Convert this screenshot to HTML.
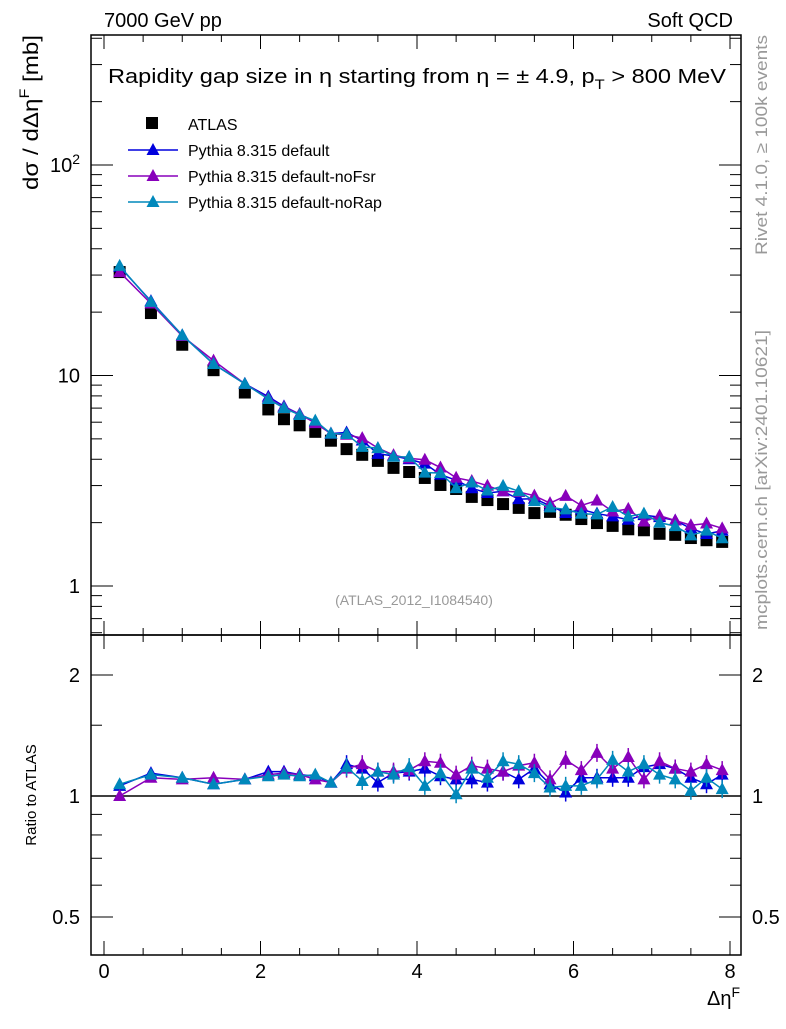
<!DOCTYPE html>
<html><head><meta charset="utf-8"><style>
body{margin:0;background:#fff;font-family:"Liberation Sans",sans-serif}
svg text{font-family:"Liberation Sans","DejaVu Sans",sans-serif}
</style></head><body>
<svg id="c" width="786" height="1024" xmlns="http://www.w3.org/2000/svg">
<rect x="91" y="35" width="650" height="600" fill="none" stroke="#000" stroke-width="1.5"/>
<rect x="91" y="635" width="650" height="320" fill="none" stroke="#000" stroke-width="1.5"/>
<text x="104" y="27" font-size="20">7000 GeV pp</text>
<text x="733" y="27" font-size="20" text-anchor="end">Soft QCD</text>
<text x="108" y="83" font-size="20" textLength="618" lengthAdjust="spacingAndGlyphs">Rapidity gap size in η starting from η = ± 4.9, p<tspan font-size="14" dy="6">T</tspan><tspan dy="-6"> &gt; 800 MeV</tspan></text>
<text x="414" y="605" font-size="14" fill="#999" text-anchor="middle">(ATLAS_2012_I1084540)</text>
<text transform="translate(767,255) rotate(-90)" font-size="17" fill="#999" textLength="220" lengthAdjust="spacingAndGlyphs">Rivet 4.1.0, ≥ 100k events</text>
<text transform="translate(767,630) rotate(-90)" font-size="17" fill="#999" textLength="300" lengthAdjust="spacingAndGlyphs">mcplots.cern.ch [arXiv:2401.10621]</text>
<text transform="translate(38,190) rotate(-90)" font-size="21" textLength="155" lengthAdjust="spacingAndGlyphs">dσ / dΔη<tspan font-size="14" dy="-9">F</tspan><tspan dy="9"> [mb]</tspan></text>
<text transform="translate(36,795) rotate(-90)" font-size="15" text-anchor="middle">Ratio to ATLAS</text>
<text x="740" y="1005" font-size="20" text-anchor="end">Δη<tspan font-size="14" dy="-8">F</tspan></text>
<g id="g"></g>
</svg>
<script>
const xs=[0.2,0.6,1.0,1.4,1.8,2.1,2.3,2.5,2.7,2.9,3.1,3.3,3.5,3.7,3.9,4.1,4.3,4.5,4.7,4.9,5.1,5.3,5.5,5.7,5.9,6.1,6.3,6.5,6.7,6.9,7.1,7.3,7.5,7.7,7.9];
const atlas=[31,19.8,14,10.6,8.3,6.9,6.2,5.8,5.4,4.9,4.47,4.2,3.93,3.64,3.48,3.26,3.02,2.89,2.65,2.56,2.45,2.35,2.22,2.25,2.18,2.08,1.99,1.93,1.86,1.84,1.77,1.75,1.69,1.65,1.62];
const rDefault=[1.06,1.14,1.11,1.07,1.10,1.15,1.15,1.13,1.12,1.08,1.20,1.17,1.08,1.14,1.15,1.17,1.12,1.10,1.10,1.08,1.15,1.10,1.17,1.07,1.02,1.11,1.11,1.11,1.11,1.18,1.20,1.17,1.11,1.07,1.13];
const rNoFsr=[1.0,1.11,1.10,1.11,1.10,1.13,1.14,1.13,1.10,1.08,1.17,1.20,1.15,1.15,1.16,1.22,1.21,1.13,1.19,1.17,1.15,1.19,1.21,1.10,1.23,1.16,1.28,1.17,1.25,1.10,1.22,1.17,1.15,1.20,1.16];
const rNoRap=[1.07,1.13,1.11,1.07,1.10,1.12,1.13,1.12,1.13,1.08,1.18,1.09,1.15,1.13,1.18,1.06,1.14,1.01,1.17,1.11,1.22,1.20,1.14,1.05,1.06,1.06,1.10,1.23,1.15,1.20,1.13,1.10,1.03,1.11,1.04];
const xTicks=[0,2,4,6,8];
const yTicks=[1,10,100];
const rTicks=[0.5,1,2];
const series=[["Pythia 8.315 default","#0000dd",rDefault],["Pythia 8.315 default-noFsr","#8800bb",rNoFsr],["Pythia 8.315 default-noRap","#0088bb",rNoRap]];
const NS="http://www.w3.org/2000/svg",g=document.getElementById('g');
const X=v=>104+78.25*v, Y=v=>586-210.5*Math.log10(v), R=v=>796-121*Math.log2(v);
function el(t,a,txt){const e=document.createElementNS(NS,t);for(const k in a)e.setAttribute(k,a[k]);if(txt!=null)e.textContent=txt;g.appendChild(e);return e;}
for(let v=0;v<=8.01;v+=0.5){const big=Math.abs(v%2)<1e-6;const L=big?14:7;
 for(const yb of [635,955]){const t=el('line',{x1:X(v),x2:X(v),y1:yb,y2:yb-L,stroke:'#000'});}
 const t2=el('line',{x1:X(v),x2:X(v),y1:35,y2:35+L,stroke:'#000'});
 const t3=el('line',{x1:X(v),x2:X(v),y1:635,y2:635+L,stroke:'#000'});}
xTicks.forEach(v=>{const t=el('text',{x:X(v),y:978,'font-size':20,'text-anchor':'middle'},String(v));});
for(let d=-1;d<=2;d++)for(let m=1;m<10;m++){const v=m*Math.pow(10,d);const y=Y(v);if(y<35||y>635)continue;const L=m==1?22:11;
 for(const [a,b] of [[91,91+L],[741,741-L]]){const t=el('line',{x1:a,x2:b,y1:y,y2:y,stroke:'#000'});}}
yTicks.forEach(v=>{const t=el('text',{x:80,y:Y(v)+7,'font-size':20,'text-anchor':'end'});
 if(v==100){t.textContent='10';const s=document.createElementNS(NS,'tspan');s.setAttribute('font-size','14');s.setAttribute('dy','-8');s.textContent='2';t.appendChild(s);}else t.textContent=String(v);});
[0.5,0.6,0.7,0.8,0.9,1,1.5,2].forEach(v=>{const big=rTicks.includes(v);const L=big?22:11;const y=R(v);
 for(const [a,b] of [[91,91+L],[741,741-L]]){const t=el('line',{x1:a,x2:b,y1:y,y2:y,stroke:'#000'});}});
rTicks.forEach(v=>{for(const [x,an] of [[80,'end'],[752,'start']]){const t=el('text',{x:x,y:R(v)+7,'font-size':20,'text-anchor':an},String(v));}});
const one=el('line',{x1:91,x2:741,y1:R(1),y2:R(1),stroke:'#000','stroke-width':1.5});
function tri(x,y,c,name){const t=el('polygon',{points:`${x},${y-7} ${x-6.5},${y+5} ${x+6.5},${y+5}`,fill:c});}
xs.forEach((x,i)=>{const r=el('rect',{x:X(x)-6,y:Y(atlas[i])-6,width:12,height:12,fill:'#000'});});
series.forEach(([nm,c,r])=>{
 const pm=el('polyline',{points:xs.map((x,i)=>X(x)+','+Y(atlas[i]*r[i])).join(' '),fill:'none',stroke:c,'stroke-width':1.5});
 xs.forEach((x,i)=>tri(X(x),Y(atlas[i]*r[i]),c,'mc-point'));
 const pr=el('polyline',{points:xs.map((x,i)=>X(x)+','+R(r[i])).join(' '),fill:'none',stroke:c,'stroke-width':1.5});
 xs.forEach((x,i)=>{if(x>3){const e=el('line',{x1:X(x),x2:X(x),y1:R(r[i])-9,y2:R(r[i])+9,stroke:c,'stroke-width':1.5});}
  tri(X(x),R(r[i]),c,'ratio-point');});
});
const lr=el('rect',{x:146,y:117,width:12,height:12,fill:'#000'});
const lt=el('text',{x:188,y:130,'font-size':16},'ATLAS');
series.forEach(([nm,c],k)=>{const y=150+k*26;const l=el('line',{x1:128,x2:178,y1:y,y2:y,stroke:c,'stroke-width':1.5});
 tri(153,y,c,'legend-marker');const t=el('text',{x:188,y:y+6,'font-size':16},nm);});
</script>
</body></html>
